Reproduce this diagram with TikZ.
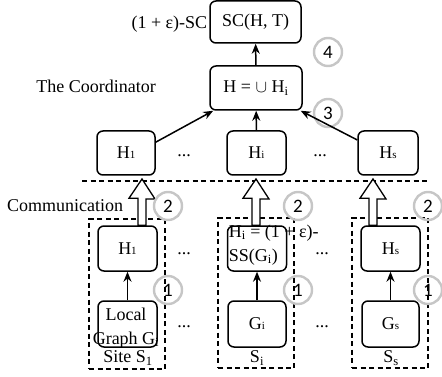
\documentclass[tikz,border=0pt]{standalone}
\usepackage{fontspec}
\setmainfont{Liberation Serif}
\newfontfamily\numfont{Carlito}
\usetikzlibrary{arrows.meta,positioning}
\newcommand{\smsub}[1]{{\fontsize{11}{11}\selectfont #1}}
\tikzset{
	box/.style={draw,rounded corners=6pt,line width=1.5pt,minimum width=59pt,minimum height=45pt,inner sep=0pt},
	sitebox/.style={draw,line width=1.2pt,dash pattern=on 5pt off 3.5pt,minimum width=76pt,minimum height=150pt},
	stepnum/.style={circle,draw=gray!45,line width=2.4pt,minimum size=28pt,inner sep=0pt,font=\numfont\fontsize{19}{19}\selectfont},
	hollow/.style={draw,fill=white,line width=1.3pt,line join=miter},
	lbl/.style={inner sep=0pt}
}

\begin{document}
\begin{tikzpicture}[
		x=1pt,y=-1pt,
		every node/.style={font=\fontsize{18}{24}\selectfont},
		>={Stealth[length=10pt,width=8pt]},
		line width=1.5pt
	]
	\useasboundingbox (0,0) rectangle (442,377);

	% the coordinator
	\node [box,minimum width=91pt,minimum height=42pt] (sc) at (255.5,22) {SC(H, T)} ;
	\node [lbl,anchor=east] (epslbl) at (208,24) {(1 + ε)-SC} ;
	\node [box,minimum width=92pt,minimum height=44pt] (hu) at (256,88) {H = $\cup$ H\textsubscript{i}} ;
	\node [lbl] (coordlbl) at (96,86) {The Coordinator} ;
	\node [stepnum] (c4) at (328,52) {4} ;
	\node [stepnum] (c3) at (328,113) {3} ;

	\node [box,minimum width=58pt,minimum height=44pt] (h1) at (126,153) {H\smsub{1}} ;
	\node [box,minimum height=44pt]                   (hi) at (256.5,153) {H\smsub{i}} ;
	\node [box,minimum width=60pt,minimum height=44pt] (hs) at (388,153) {H\smsub{s}} ;
	\node [lbl,anchor=base] (dotsa) at (184,157) {...} ;
	\node [lbl,anchor=base] (dotsb) at (320,157) {...} ;

	\draw [->] (hu) -- (sc) ;
	\draw [->] (h1.20) -- (hu.208) ;
	\draw [->] (hi) -- (hu) ;
	\draw [->] (hs.157) -- (hu.-27) ;

	% communication
	\coordinate (cl) at (82,181) ;
	\coordinate (cr) at (430,181) ;
	\draw [line width=1.2pt,dash pattern=on 5pt off 3.5pt] (cl) -- (cr) ;
	\node [lbl] (commlbl) at (65,206) {Communication} ;

	% the sites
	\node [sitebox] (site1) at (127,294) {} ;
	\node [sitebox] (sitei) at (256,293) {} ;
	\node [sitebox] (sites) at (390,293) {} ;

	\node [box] (l1) at (127.5,248.5) {H\smsub{1}} ;
	\node [box] (li) at (257,248.5) {} ;
	\node [box] (ls) at (390.5,248.5) {H\smsub{s}} ;
	\node [lbl,anchor=west,align=left] (litext) at (228,245) {H\textsubscript{i} = (1 + ε)-\\SS(G\textsubscript{i})} ;

	\node [box,minimum height=46pt] (g1) at (127.5,324) {} ;
	\node [box,minimum width=58pt,minimum height=46pt] (gi) at (257,324) {G\smsub{i}} ;
	\node [box,minimum width=57pt,minimum height=46pt] (gs) at (390.5,324) {G\smsub{s}} ;
	\node [lbl,align=center] (g1text) at (126,328) {Local\\Graph G\textsubscript{i}} ;

	\node [lbl,anchor=base] (dotsc) at (184,254) {...} ;
	\node [lbl,anchor=base] (dotsd) at (322,254) {...} ;
	\node [lbl,anchor=base] (dotse) at (184,327) {...} ;
	\node [lbl,anchor=base] (dotsf) at (322,327) {...} ;

	\node [lbl] (s1lbl) at (128,358) {Site S\textsubscript{1}} ;
	\node [lbl] (silbl) at (257,358) {S\textsubscript{i}} ;
	\node [lbl] (sslbl) at (391,358) {S\textsubscript{s}} ;

	\draw [->] (g1) -- (l1) ;
	\draw [->] (gi) -- (li) ;
	\draw [->] (gs) -- (ls) ;

	\coordinate (t1) at (142,179) ;
	\coordinate (ti) at (256,179) ;
	\coordinate (ts) at (373,179) ;
	\foreach \t/\b in {t1/l1,ti/li,ts/ls}
		\draw [hollow] (\t) -- ++(13,20) -- ++(-9,0) |- ([xshift=-4pt]\t |- \b.north) -- ++(0,-27) -- ++(-9,0) -- cycle ;

	\node [stepnum] (c2a) at (168,206) {2} ;
	\node [stepnum] (c2b) at (298,206) {2} ;
	\node [stepnum] (c2c) at (428,206) {2} ;
	\node [stepnum] (c1a) at (168,290) {1} ;
	\node [stepnum] (c1b) at (298,290) {1} ;
	\node [stepnum] (c1c) at (428,290) {1} ;
\end{tikzpicture}
\end{document}
